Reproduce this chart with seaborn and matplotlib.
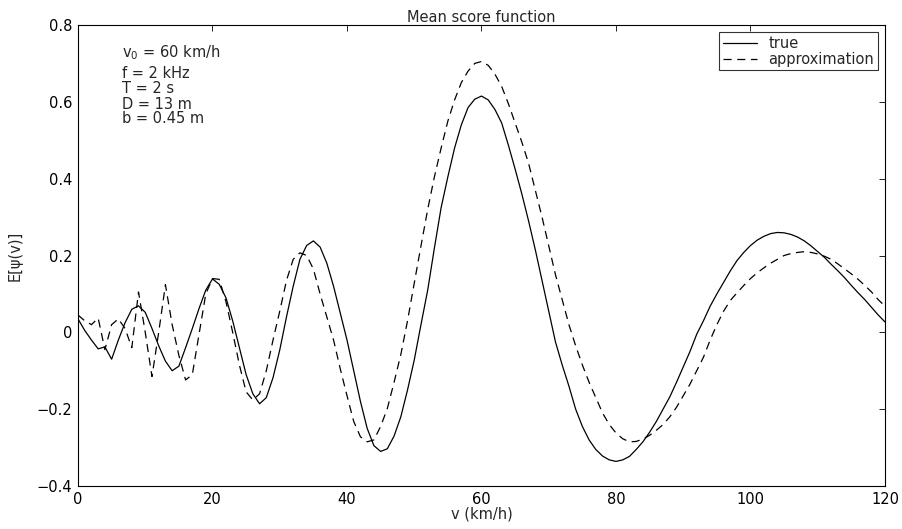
import numpy as np
import pandas as pd
import matplotlib
matplotlib.use("Agg")
import matplotlib.pyplot as plt
import seaborn as sns

speed = list(range(0, 121))

true_vals = [
    0.035, 0.005, -0.02, -0.043, -0.038, -0.07, -0.02, 0.025, 0.06, 0.069,
    0.052, 0.01, -0.035, -0.075, -0.1, -0.088, -0.04, 0.01, 0.062, 0.11,
    0.139, 0.125, 0.09, 0.03, -0.04, -0.11, -0.16, -0.186, -0.17, -0.118,
    -0.046, 0.04, 0.12, 0.19, 0.226, 0.238, 0.222, 0.18, 0.12, 0.05,
    -0.02, -0.1, -0.18, -0.25, -0.295, -0.31, -0.303, -0.27, -0.22, -0.15,
    -0.072, 0.02, 0.11, 0.22, 0.325, 0.405, 0.48, 0.54, 0.585, 0.607,
    0.615, 0.605, 0.58, 0.545, 0.487, 0.425, 0.36, 0.29, 0.215, 0.135,
    0.055, -0.025, -0.085, -0.14, -0.2, -0.245, -0.28, -0.305, -0.322, -0.332,
    -0.336, -0.332, -0.323, -0.305, -0.285, -0.26, -0.232, -0.2, -0.168, -0.13,
    -0.09, -0.05, -0.005, 0.03, 0.068, 0.1, 0.13, 0.16, 0.187, 0.208,
    0.226, 0.24, 0.25, 0.257, 0.26, 0.259, 0.255, 0.248, 0.238, 0.225,
    0.21, 0.195, 0.177, 0.16, 0.142, 0.122, 0.103, 0.085, 0.065, 0.045,
    0.027,
]

approx_vals = [
    0.045, 0.03, 0.02, 0.037, -0.045, 0.02, 0.035, 0.01, -0.04, 0.105,
    0.0, -0.115, 0.0, 0.124, 0.02, -0.06, -0.124, -0.11, -0.005, 0.1,
    0.14, 0.138, 0.08, 0.0, -0.085, -0.155, -0.176, -0.16, -0.1, -0.02,
    0.055, 0.135, 0.19, 0.207, 0.2, 0.165, 0.1, 0.04, -0.02, -0.095,
    -0.165, -0.232, -0.272, -0.285, -0.28, -0.245, -0.198, -0.13, -0.058, 0.03,
    0.128, 0.225, 0.32, 0.405, 0.48, 0.55, 0.605, 0.65, 0.68, 0.7,
    0.705, 0.695, 0.672, 0.64, 0.595, 0.545, 0.495, 0.44, 0.37, 0.3,
    0.225, 0.15, 0.085, 0.02, -0.035, -0.085, -0.13, -0.17, -0.21, -0.24,
    -0.262, -0.277, -0.285, -0.284, -0.278, -0.268, -0.255, -0.24, -0.22, -0.195,
    -0.165, -0.135, -0.1, -0.065, -0.02, 0.02, 0.055, 0.083, 0.103, 0.122,
    0.14, 0.155, 0.168, 0.18, 0.19, 0.2, 0.205, 0.208, 0.21, 0.208,
    0.204, 0.198, 0.19, 0.178, 0.165, 0.152, 0.138, 0.122, 0.105, 0.085,
    0.068,
]

x_ticks = [0, 20, 40, 60, 80, 100, 120]
y_ticks = [-0.4, -0.2, 0, 0.2, 0.4, 0.6, 0.8]
y_tick_labels = ["\u22120.4", "\u22120.2", "0", "0.2", "0.4", "0.6", "0.8"]
param_lines = [r"v$_0$ = 60 km/h", "f = 2 kHz", "T = 2 s", "D = 13 m", "b = 0.45 m"]

FS = 10.5

sns.set_style("white")
plt.rcParams["font.family"] = ["DejaVu Sans"]
plt.rcParams["mathtext.fontset"] = "dejavusans"

fig = plt.figure(figsize=(9.03, 5.29), dpi=100)
ax = fig.add_axes([78 / 903, 1 - 486 / 529, (885 - 78) / 903, (486 - 25) / 529])

df = pd.DataFrame({"v": speed, "true": true_vals, "approx": approx_vals})
sns.lineplot(data=df, x="v", y="true", ax=ax, color="black", linewidth=0.9, label="true")
sns.lineplot(data=df, x="v", y="approx", ax=ax, color="black", linewidth=0.9,
             label="approximation")
ax.lines[1].set_dashes((6.5, 4.5))

ax.set_xlim(0, 120)
ax.set_ylim(-0.4, 0.8)
ax.set_xticks(x_ticks)
ax.set_yticks(y_ticks)
ax.set_yticklabels(y_tick_labels)
ax.tick_params(direction="in", top=True, right=True, length=4.5, width=0.6,
               labelsize=FS, colors="black", pad=4)
for s in ax.spines.values():
    s.set_color("black")
    s.set_linewidth(0.8)

ax.set_title("Mean score function", fontsize=FS, pad=2)
ax.set_xlabel("v (km/h)", fontsize=FS, labelpad=0)
ax.set_ylabel("E[ψ(v)]", fontsize=FS, labelpad=10)

ys = [0.727, 0.675, 0.636, 0.594, 0.556]
for t, yv in zip(param_lines, ys):
    ax.text(6.6, yv, t, fontsize=FS, va="center", ha="left")

leg = ax.legend(loc="upper right", fontsize=FS, frameon=True, fancybox=False,
                edgecolor="black", borderaxespad=0.5, handlelength=2.3,
                borderpad=0.25, labelspacing=0.05, handletextpad=0.8)
leg.get_frame().set_linewidth(0.8)

fig.savefig("out.png", dpi=100)
